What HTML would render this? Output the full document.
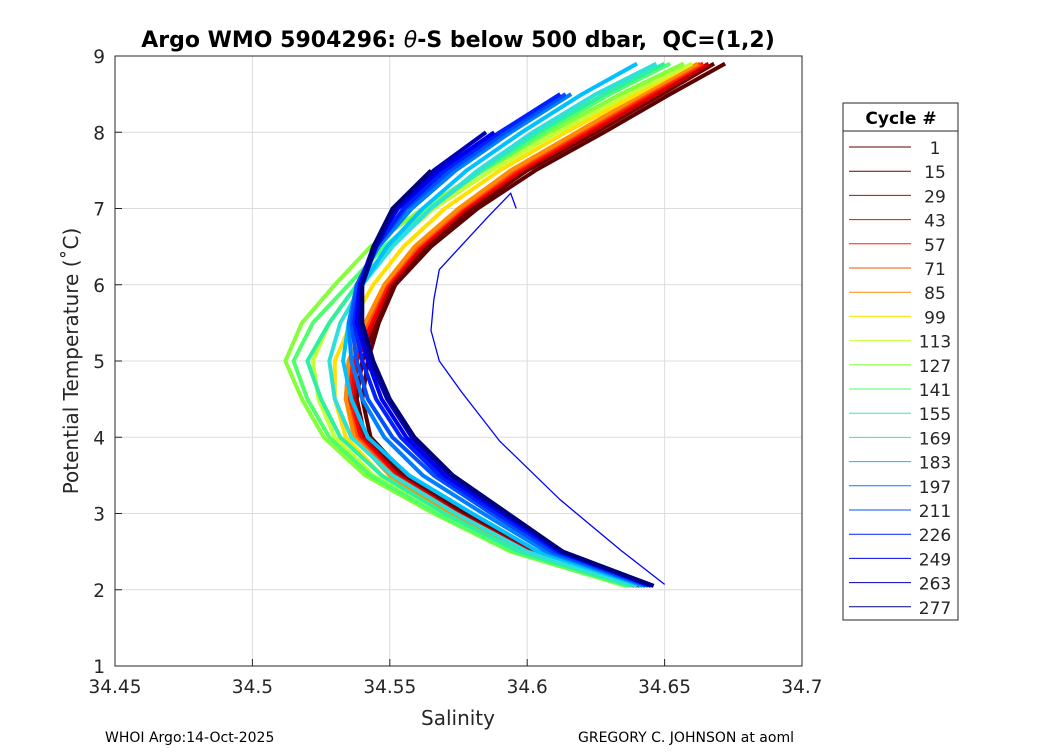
<!DOCTYPE html>
<html><head><meta charset="utf-8"><style>
body{margin:0;background:#fff;}
svg text{font-family:"DejaVu Sans","Liberation Sans",sans-serif;fill:#262626;}
</style></head><body>
<svg id="chart" width="1050" height="750" xmlns="http://www.w3.org/2000/svg">
<rect width="1050" height="750" fill="#fff"/>
<g id="grid"></g>
<g id="series"></g>
<rect x="115" y="56" width="687" height="610" fill="none" stroke="#262626" stroke-width="1"/>
<g id="ticks"></g>
<text x="458" y="47" text-anchor="middle" font-size="22" font-weight="bold" style="fill:#000;white-space:pre" xml:space="preserve">Argo WMO 5904296: <tspan font-style="italic" font-weight="normal">θ</tspan>-S below 500 dbar,  QC=(1,2)</text>
<text x="458" y="725" text-anchor="middle" font-size="20">Salinity</text>
<text transform="translate(78,361) rotate(-90)" text-anchor="middle" font-size="20">Potential Temperature (˚C)</text>
<text x="105" y="742" font-size="14" style="fill:#000">WHOI Argo:14-Oct-2025</text>
<text x="578" y="742" font-size="14" style="fill:#000">GREGORY C. JOHNSON at aoml</text>
<g id="legend">
<rect x="843" y="103" width="115" height="517" fill="#fff" stroke="#262626"/>
<line x1="843" y1="131" x2="958" y2="131" stroke="#262626"/>
<text x="901" y="124" text-anchor="middle" font-size="17" font-weight="bold" style="fill:#000">Cycle #</text>
</g>
</svg>
<script>
const thetaLevels=[2.05,2.5,3,3.5,4,4.5,5,5.5,6,6.5,7,7.5,8,8.5,8.9];
const cycles=[1,15,29,43,57,71,85,99,113,127,141,155,169,183,197,211,226,249,263,277];
const colors=["#5c0000","#6e0000","#c80000","#ff0000","#ff1e00","#ff5200","#ff8c00","#ffe000","#c4ff3a","#84ff3a","#50ff6a","#2ef0a0","#2ee0d8","#00c0ff","#0080ff","#0050ff","#0020ff","#0000f0","#0000b8","#00007a"];
const sal=[
[34.643,34.604,34.578,34.556,34.543,34.540,34.542,34.546,34.552,34.565,34.582,34.603,34.628,34.652,34.672],
[34.642,34.602,34.576,34.555,34.541,34.538,34.540,34.545,34.551,34.563,34.580,34.600,34.625,34.649,34.668],
[34.641,34.601,34.575,34.553,34.540,34.537,34.538,34.544,34.550,34.562,34.578,34.598,34.623,34.647,34.666],
[34.640,34.600,34.574,34.552,34.539,34.536,34.537,34.543,34.549,34.561,34.577,34.597,34.621,34.645,34.664],
[34.640,34.599,34.573,34.551,34.538,34.535,34.536,34.542,34.549,34.560,34.576,34.596,34.620,34.644,34.664],
[34.639,34.599,34.573,34.551,34.538,34.534,34.535,34.542,34.548,34.560,34.576,34.595,34.619,34.643,34.663],
[34.638,34.598,34.572,34.550,34.537,34.534,34.535,34.541,34.548,34.559,34.575,34.594,34.618,34.642,34.662],
[34.637,34.596,34.570,34.547,34.534,34.530,34.530,34.536,34.544,34.555,34.570,34.590,34.614,34.640,34.660],
[34.636,34.595,34.568,34.544,34.530,34.524,34.522,34.528,34.538,34.550,34.566,34.587,34.611,34.637,34.660],
[34.636,34.594,34.566,34.541,34.526,34.518,34.512,34.518,34.530,34.543,34.562,34.584,34.608,34.634,34.657],
[34.637,34.595,34.567,34.543,34.528,34.520,34.515,34.522,34.535,34.548,34.564,34.584,34.606,34.630,34.652],
[34.638,34.597,34.570,34.547,34.532,34.525,34.520,34.528,34.538,34.550,34.565,34.583,34.604,34.628,34.650],
[34.640,34.600,34.574,34.551,34.536,34.530,34.528,34.532,34.540,34.551,34.565,34.582,34.602,34.625,34.647],
[34.642,34.604,34.580,34.557,34.542,34.536,34.533,34.535,34.540,34.549,34.562,34.578,34.598,34.620,34.640],
[34.643,34.607,34.584,34.562,34.548,34.540,34.536,34.535,34.538,34.546,34.558,34.574,34.594,34.616,null],
[34.644,34.609,34.587,34.566,34.551,34.542,34.538,34.536,34.538,34.545,34.556,34.572,34.592,34.614,null],
[34.645,34.611,34.589,34.568,34.554,34.545,34.540,34.537,34.539,34.545,34.555,34.570,34.590,34.612,null],
[34.645,34.612,34.591,34.570,34.556,34.547,34.542,34.538,34.539,34.544,34.553,34.568,34.588,null,null],
[34.646,34.613,34.592,34.572,34.558,34.549,34.543,34.539,34.540,34.545,34.552,34.566,34.585,null,null],
[34.646,34.613,34.593,34.573,34.559,34.550,34.544,34.540,34.540,34.544,34.551,34.565,null,null,null]
];
const outlierTheta=[2.07,2.52,3.18,3.95,4.6,5.0,5.4,5.8,6.2,6.9,7.2,7.0];
const outlierSal=[34.650,34.634,34.612,34.590,34.576,34.568,34.565,34.566,34.568,34.586,34.594,34.596];
const xTicks=[34.45,34.5,34.55,34.6,34.65,34.7];
const yTicks=[1,2,3,4,5,6,7,8,9];
const NS="http://www.w3.org/2000/svg";
const X0=115,X1=802,Y0=666,Y1=56;
function xs(s){return X0+(s-34.45)/0.25*(X1-X0);}
function ys(t){return Y0-(t-1)/8*(Y0-Y1);}
function mk(tag,attrs,parent){const e=document.createElementNS(NS,tag);for(const k in attrs)e.setAttribute(k,attrs[k]);parent.appendChild(e);return e;}
const grid=document.getElementById('grid'),ticks=document.getElementById('ticks');
xTicks.forEach(v=>{const x=xs(v);
 const g=mk('line',{x1:x,x2:x,y1:Y1,y2:Y0,stroke:'#dcdcdc'},grid);
 
 
 const t=mk('line',{x1:x,x2:x,y1:Y0,y2:Y0-7,stroke:'#262626'},ticks);
 
 
 const l=mk('text',{x:x,y:Y0+27,'text-anchor':'middle','font-size':'18.5'},ticks);l.textContent=String(v);
 
 
});
yTicks.forEach(v=>{const y=ys(v);
 const g=mk('line',{x1:X0,x2:X1,y1:y,y2:y,stroke:'#dcdcdc'},grid);
 
 
 const t=mk('line',{x1:X0,x2:X0+7,y1:y,y2:y,stroke:'#262626'},ticks);
 
 
 const l=mk('text',{x:X0-10,y:y+7,'text-anchor':'end','font-size':'18.5'},ticks);l.textContent=String(v);
 
 
});
const ser=document.getElementById('series');
cycles.forEach((c,i)=>{
 const pts=[];sal[i].forEach((s,k)=>{if(s!==null)pts.push(xs(s).toFixed(1)+','+ys(thetaLevels[k]).toFixed(1));});
 const p=mk('polyline',{points:pts.join(' '),fill:'none',stroke:colors[i],'stroke-width':4,'stroke-linejoin':'round'},ser);
 
 
});
const op=[];outlierTheta.forEach((t,k)=>op.push(xs(outlierSal[k]).toFixed(1)+','+ys(t).toFixed(1)));
const o=mk('polyline',{points:op.join(' '),fill:'none',stroke:'#0000ff','stroke-width':1.3},ser);


const leg=document.getElementById('legend');
cycles.forEach((c,i)=>{const y=147+i*24.2;
 const ln=mk('line',{x1:849,x2:911,y1:y,y2:y,stroke:colors[i],'stroke-width':1},leg);
 
 
 const tx=mk('text',{x:935,y:y+7,'text-anchor':'middle','font-size':'17'},leg);tx.textContent=String(c);
 
 
});
</script>
</body></html>
